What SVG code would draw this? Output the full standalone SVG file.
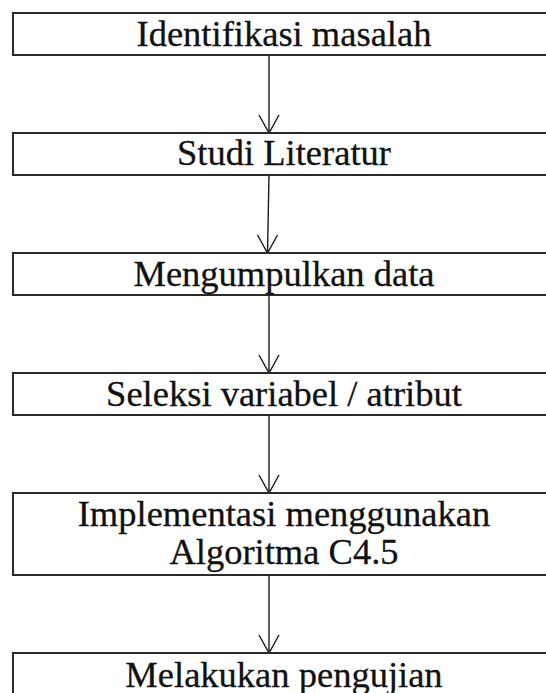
<svg xmlns="http://www.w3.org/2000/svg" width="546" height="693" viewBox="0 0 546 693">
  <style>
    .box { fill: #fff; stroke: #2a2a2a; stroke-width: 2; }
    .label { font-family: 'Liberation Serif', 'DejaVu Serif', serif; font-size: 36.5px; fill: #111; stroke: #111; stroke-width: 0.3; text-anchor: middle; }
    .link { fill: none; stroke: #1a1a1a; stroke-width: 1.4; }
    .head { fill: none; stroke: #1a1a1a; stroke-width: 1.4; stroke-linejoin: miter; }
  </style>
  <rect width="546" height="693" fill="#fff"/>

  <!-- vertical flow arrows between the steps -->
  <g id="connectors">
    <line class="link" x1="269" y1="55" x2="269" y2="133"/>
    <polyline class="head" points="259,115 269,133 279,115"/>
    <line class="link" x1="269" y1="175" x2="267.5" y2="253"/>
    <polyline class="head" points="257.5,235 267.5,253 277.5,235"/>
    <line class="link" x1="269" y1="295" x2="269" y2="373"/>
    <polyline class="head" points="259,355 269,373 279,355"/>
    <line class="link" x1="269" y1="415" x2="269" y2="493"/>
    <polyline class="head" points="259,475 269,493 279,475"/>
    <line class="link" x1="269" y1="575" x2="269" y2="653"/>
    <polyline class="head" points="259,635 269,653 279,635"/>
  </g>

  <g id="identifikasi">
    <rect class="box" x="13" y="13" width="545" height="42"/>
    <text class="label" x="284" y="46">Identifikasi masalah</text>
  </g>
  <g id="studi">
    <rect class="box" x="13" y="133" width="545" height="42"/>
    <text class="label" x="284" y="165">Studi Literatur</text>
  </g>
  <g id="mengumpulkan">
    <rect class="box" x="13" y="253" width="545" height="42"/>
    <text class="label" x="284" y="286">Mengumpulkan data</text>
  </g>
  <g id="seleksi">
    <rect class="box" x="13" y="373" width="545" height="42"/>
    <text class="label" x="284" y="406">Seleksi variabel / atribut</text>
  </g>
  <g id="implementasi">
    <rect class="box" x="13" y="493" width="545" height="82"/>
    <text class="label" x="284" y="526">Implementasi menggunakan</text>
    <text class="label" x="284" y="564">Algoritma C4.5</text>
  </g>
  <g id="pengujian">
    <rect class="box" x="13" y="653" width="545" height="60"/>
    <text class="label" x="284" y="687">Melakukan pengujian</text>
  </g>
</svg>
